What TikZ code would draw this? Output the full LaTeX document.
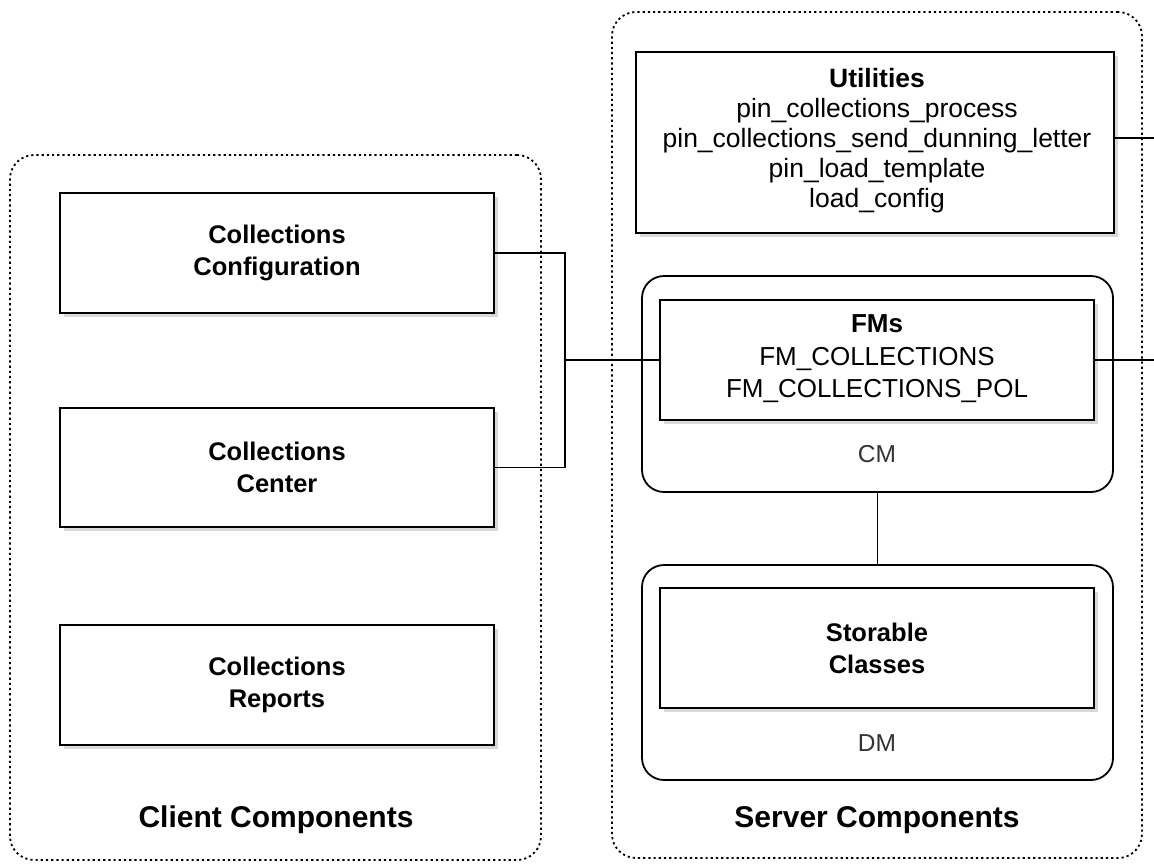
\documentclass[tikz,border=0pt]{standalone}
\usepackage{fontspec}
\setmainfont{Liberation Sans}
\usetikzlibrary{shadows}
\begin{document}
\begin{tikzpicture}[x=1pt,y=-1pt,
  grp/.style={draw=black,line width=1.8pt,dash pattern=on 2.2pt off 3pt,rounded corners=24pt,inner sep=0pt},
  tier/.style={draw=black,line width=1.8pt,rounded corners=22pt,inner sep=0pt},
  box/.style={draw=black,line width=2pt,fill=white,inner sep=0pt,align=center,
    drop shadow={shadow xshift=4pt,shadow yshift=-4pt,fill=black!15,opacity=1}},
  boldlbl/.style={font=\fontsize{25.5}{32}\selectfont\bfseries},
  plainlbl/.style={font=\fontsize{26.5}{30}\selectfont},
  fmlbl/.style={font=\fontsize{26}{32.5}\selectfont},
  tierlbl/.style={font=\fontsize{24.5}{28}\selectfont,text=black!80},
  grplbl/.style={font=\fontsize{30}{34}\selectfont\bfseries},
  conn/.style={draw=black,line width=1.8pt}
]
\useasboundingbox (0,0) rectangle (1154,863);
\fill[white] (0,0) rectangle (1154,863);

% groups
\node[grp,minimum width=531pt,minimum height=705pt] (client) at (275.5,507.5) {};
\node[grp,minimum width=530pt,minimum height=846pt] (server) at (877,435) {};

% tiers
\node[tier,minimum width=471pt,minimum height=216pt] (cm) at (877.5,384) {};
\node[tier,minimum width=471pt,minimum height=215pt] (dm) at (877.5,672.5) {};
\node[tierlbl] (cmlbl) at (877,454) {CM};
\node[tierlbl] (dmlbl) at (877,743) {DM};

% connector end points
\coordinate (j) at (565,360);
\coordinate (ue) at (1154,138);
\coordinate (fe) at (1154,360);

% boxes
\node[box,boldlbl,minimum width=434pt,minimum height=120pt] (cfg) at (277,253) {Collections\\Configuration};
\node[box,boldlbl,minimum width=434pt,minimum height=119pt] (ctr) at (277,467.5) {Collections\\Center};
\node[box,boldlbl,minimum width=434pt,minimum height=120pt] (rep) at (277,685) {Collections\\Reports};
\node[box,minimum width=478pt,minimum height=181pt] (util) at (875,142.5) {};
\node[plainlbl,align=center] (utiltxt) at (877,140.5) {{\bfseries Utilities}\\pin\_collections\_process\\pin\_collections\_send\_dunning\_letter\\pin\_load\_template\\load\_config};
\node[box,minimum width=434pt,minimum height=120pt] (fms) at (877,360) {};
\node[fmlbl,align=center] (fmstxt) at (877,359) {{\bfseries FMs}\\FM\_COLLECTIONS\\FM\_COLLECTIONS\_POL};
\node[box,boldlbl,minimum width=434pt,minimum height=120pt] (sto) at (877,648) {Storable\\Classes};

\draw[conn] (cfg.east) -| (j) |- (ctr.east);
\draw[conn] (j) -- (fms.west);
\draw[conn] (fms.east) -- (fe);
\draw[conn] (util.east |- ue) -- (ue);
\draw[conn] (cm.south) -- (dm.north);

\node[grplbl] (clbl) at (276,820) {Client Components};
\node[grplbl] (slbl) at (877,820) {Server Components};
\end{tikzpicture}
\end{document}
